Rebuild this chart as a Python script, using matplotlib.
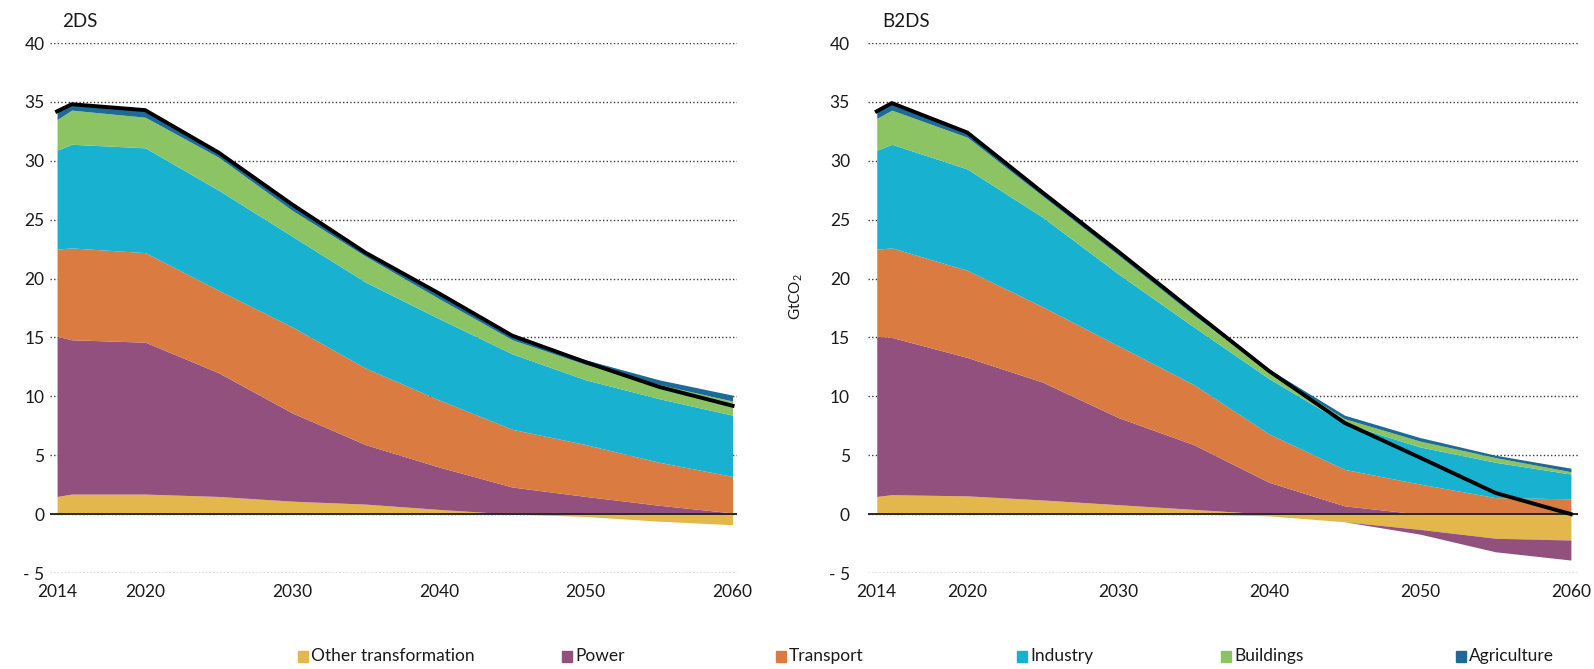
import matplotlib
matplotlib.use("Agg")
import matplotlib.pyplot as plt
import numpy as np
from matplotlib.patches import Rectangle

plt.rcParams["font.family"] = ["Lato", "DejaVu Sans"]
plt.rcParams["mathtext.fontset"] = "custom"
plt.rcParams["mathtext.rm"] = "Lato"
plt.rcParams["mathtext.it"] = "Lato"

years = [2014, 2015, 2020, 2025, 2030, 2035, 2040, 2045, 2050, 2055, 2060]
x_ticks = [2014, 2020, 2030, 2040, 2050, 2060]
y_ticks = [-5, 0, 5, 10, 15, 20, 25, 30, 35, 40]
y_ticklabels = ["- 5", "0", "5", "10", "15", "20", "25", "30", "35", "40"]

sectors = ["Other transformation", "Power", "Transport", "Industry",
           "Buildings", "Agriculture"]
colors = ["#E4B74C", "#91507E", "#DA7B42", "#18B1D0", "#8DC463", "#1D6A96"]

# 2DS - émissions directes par secteur (GtCO2)
other_2ds = [1.5, 1.7, 1.7, 1.5, 1.1, 0.85, 0.4, 0.0, -0.2, -0.6, -0.9]
power_2ds = [13.6, 13.1, 12.9, 10.5, 7.5, 5.05, 3.6, 2.3, 1.5, 0.75, 0.1]
transport_2ds = [7.4, 7.8, 7.6, 7.0, 7.3, 6.5, 5.7, 4.9, 4.4, 3.65, 3.1]
industry_2ds = [8.4, 8.8, 8.9, 8.5, 7.7, 7.3, 6.9, 6.4, 5.5, 5.4, 5.2]
buildings_2ds = [2.6, 2.9, 2.6, 2.8, 2.2, 2.2, 1.7, 1.2, 1.3, 1.2, 1.2]
agriculture_2ds = [0.7, 0.5, 0.6, 0.4, 0.5, 0.3, 0.45, 0.35, 0.4, 0.4, 0.5]

# B2DS
other_b2ds = [1.5, 1.65, 1.55, 1.2, 0.8, 0.4, -0.15, -0.65, -1.3, -2.05, -2.2]
power_b2ds = [13.6, 13.35, 11.75, 10.0, 7.4, 5.5, 2.7, 0.7, -0.4, -1.15, -1.7]
transport_b2ds = [7.4, 7.6, 7.4, 6.4, 6.1, 5.1, 4.1, 3.1, 2.55, 1.4, 1.3]
industry_b2ds = [8.4, 8.8, 8.6, 7.6, 6.1, 4.9, 4.7, 3.9, 3.15, 3.0, 2.1]
buildings_b2ds = [2.7, 2.9, 2.7, 1.8, 1.6, 1.0, 0.6, 0.4, 0.5, 0.4, 0.2]
agriculture_b2ds = [0.6, 0.6, 0.4, 0.3, 0.3, 0.3, 0.2, 0.3, 0.3, 0.2, 0.3]

W, H = 1594, 669


def draw_panel(ax, series, xlim, ypad):
    """Aires empilées : positifs au-dessus de 0, négatifs en dessous."""
    x = np.array(years, dtype=float)
    data = np.array(series, dtype=float)
    pos_base = np.zeros(len(x))
    neg_base = np.zeros(len(x))
    for vals, color in zip(data, colors):
        pos = np.clip(vals, 0, None)
        neg = np.clip(vals, None, 0)
        ax.fill_between(x, pos_base, pos_base + pos, color=color, lw=0, zorder=2)
        ax.fill_between(x, neg_base, neg_base + neg, color=color, lw=0, zorder=2)
        pos_base += pos
        neg_base += neg

    ax.axhline(0, color="#2a2a2a", lw=1.4, zorder=3)
    # total net
    ax.plot(x, data.sum(axis=0), color="black", lw=2.8, zorder=4,
            solid_joinstyle="round")

    ax.set_xlim(*xlim)
    ax.set_ylim(-5, 40)
    ax.set_yticks(y_ticks)
    ax.set_yticklabels(y_ticklabels)
    ax.set_xticks(x_ticks)
    ax.yaxis.grid(True, linestyle=(0, (1, 1.6)), color="#3a3a3a", lw=1.0, zorder=1)
    ax.set_axisbelow(True)
    for s in ax.spines.values():
        s.set_visible(False)
    ax.tick_params(axis="both", length=0, labelsize=12.5, colors="#1a1a1a")
    ax.tick_params(axis="y", pad=ypad)
    ax.tick_params(axis="x", pad=8)


fig = plt.figure(figsize=(W / 100, H / 100), dpi=100)

ax1 = fig.add_axes([50 / W, 96 / H, 687 / W, 530 / H])
draw_panel(ax1, [other_2ds, power_2ds, transport_2ds, industry_2ds,
                 buildings_2ds, agriculture_2ds], (2013.52, 2060.3), 4)

ax2 = fig.add_axes([868 / W, 96 / H, 710 / W, 530 / H])
draw_panel(ax2, [other_b2ds, power_b2ds, transport_b2ds, industry_b2ds,
                 buildings_b2ds, agriculture_b2ds], (2013.42, 2060.47), 13)

fig.text(62 / W, 1 - 27 / H, "2DS", fontsize=13.5, va="baseline", color="#1a1a1a")
fig.text(882 / W, 1 - 27 / H, "B2DS", fontsize=13.5, va="baseline", color="#1a1a1a")
fig.text(796 / W, 1 - 297 / H, r"GtCO$_2$", fontsize=11, rotation=90,
         ha="center", va="center", color="#1a1a1a")

# légende
legend_x = [298, 562, 776, 1017, 1221, 1456]
for name, color, lx in zip(sectors, colors, legend_x):
    fig.patches.append(Rectangle((lx / W, (H - 662) / H), 10 / W, 11 / H,
                                 transform=fig.transFigure, color=color))
    fig.text((lx + 13) / W, (H - 656) / H, name, fontsize=12.5,
             va="center", color="#1a1a1a")

fig.savefig("out.png", dpi=100)
